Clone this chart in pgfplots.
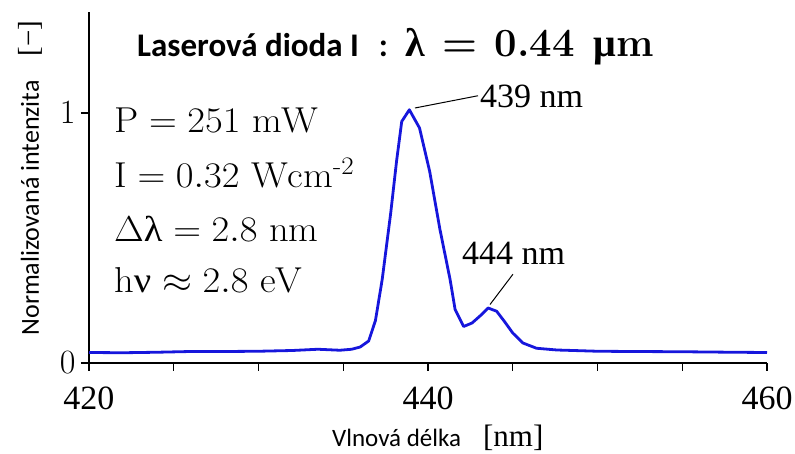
\RequirePackage{fix-cm}
\documentclass[border=0pt]{standalone}
\usepackage{pgfplots}
\pgfplotsset{compat=1.18}
\usepackage{fontspec}
\newfontfamily\carlito{Carlito}
\newfontfamily\libserif{Liberation Serif}
\definecolor{specblue}{RGB}{22,22,220}
\begin{document}
\begin{tikzpicture}
\useasboundingbox (-89pt,-91pt) rectangle (706pt,363pt);
\begin{axis}[
  at={(0pt,0pt)}, anchor=south west,
  scale only axis, width=678pt, height=351pt,
  xmin=420, xmax=460, ymin=0, ymax=1.404,
  axis lines*=left,
  axis line style={line width=1.4pt, black},
  xtick={420,425,...,460},
  xticklabels={420,,,,440,,,,460},
  ytick={0,1},
  tick align=outside,
  major tick length=8pt,
  tick style={line width=1.4pt, black},
  xticklabel style={font=\libserif\fontsize{34}{34}\selectfont, yshift=-12pt},
  yticklabel style={font=\fontsize{34}{34}\selectfont, xshift=-2pt},
  clip=false,
]
\addplot[color=specblue, line width=2.8pt, line join=round] coordinates {
(420.0,0.042) (422,0.041) (424,0.043) (426,0.046) (428,0.046) (430,0.047)
(432,0.050) (433.5,0.055) (434.8,0.051) (435.5,0.055) (436.0,0.064)
(436.5,0.088) (436.9,0.170) (437.3,0.335) (437.8,0.60) (438.15,0.81)
(438.45,0.966) (438.9,1.013) (439.5,0.94) (440.1,0.766) (440.7,0.536)
(441.3,0.335) (441.6,0.214) (442.1,0.146) (442.6,0.16) (443.1,0.19)
(443.55,0.22) (444.05,0.207) (444.5,0.167) (445.0,0.12) (445.6,0.08)
(446.4,0.059) (447.6,0.052) (450,0.047) (452,0.046) (455,0.045)
(458,0.043) (460,0.042)
};
\draw[line width=1pt] (axis cs:439.23,1.020) -- (axis cs:442.95,1.069);
\draw[line width=1pt] (axis cs:443.66,0.234) -- (axis cs:445.01,0.355);
\node[anchor=base west, inner sep=0pt, font=\libserif\fontsize{34}{34}\selectfont]
  at (axis cs:443.07,1.020) {439 nm};
\node[anchor=base west, inner sep=0pt, font=\libserif\fontsize{34}{34}\selectfont]
  at (axis cs:442.0,0.395) {444 nm};
\end{axis}
% title
\node[anchor=base west, inner sep=0pt] at (48pt,306pt)
  {{\carlito\bfseries\fontsize{33}{33}\selectfont Laserová dioda I\hspace{20pt}:}\hspace{18pt}{\fontsize{40}{40}\selectfont{\libserif\bfseries λ}\hspace{17pt}\textbf{=}\hspace{17pt}\textbf{0.44}\hspace{19pt}{\libserif\bfseries μ}\textbf{m}}};
% parameter block
\begin{scope}[every node/.style={anchor=base west, inner sep=0pt, xscale=1.07, font=\fontsize{36}{36}\selectfont}]
\node at (25pt,230pt) {$\mathrm{P} = 251\ \mathrm{mW}$};
\node at (25pt,175pt) {$\mathrm{I} = 0.32\ \mathrm{Wcm}$\textsuperscript{-2}};
\node at (25pt,121pt) {$\Delta\mbox{\libserif λ} = 2.8\ \mathrm{nm}$};
\node at (25pt,70pt) {$\mathrm{h}\mbox{\libserif ν} \approx 2.8\ \mathrm{eV}$};
\end{scope}
% axis labels
\node[rotate=90, anchor=base, inner sep=0pt] at (-50pt,185pt)
  {{\carlito\fontsize{26}{26}\selectfont Normalizovaná intenzita}\hspace{24pt}{\libserif\fontsize{29}{29}\selectfont [−]}};
\node[anchor=base west, inner sep=0pt] at (243pt,-84pt)
  {{\carlito\fontsize{25}{25}\selectfont Vlnová délka}\hspace{22pt}{\libserif\fontsize{31}{31}\selectfont [nm]}};
\end{tikzpicture}
\end{document}
